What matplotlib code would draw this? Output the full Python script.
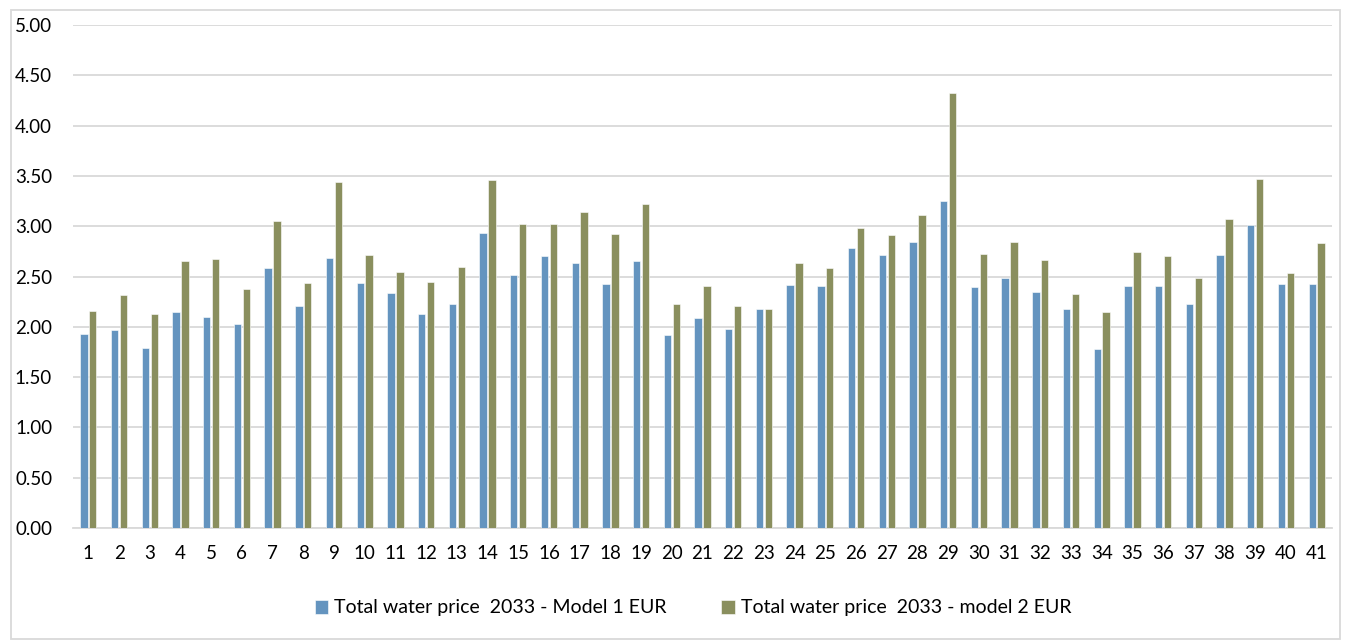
import numpy as np
import matplotlib
matplotlib.use('Agg')
import matplotlib.pyplot as plt
from matplotlib.patches import Rectangle

plt.rcParams['font.family'] = ['Lato', 'DejaVu Sans']

# Data
categories = [str(i) for i in range(1, 42)]
model1 = [1.93, 1.97, 1.79, 2.15, 2.10, 2.03, 2.58, 2.21, 2.68, 2.44,
          2.34, 2.13, 2.23, 2.93, 2.51, 2.70, 2.63, 2.43, 2.65, 1.92,
          2.09, 1.98, 2.18, 2.42, 2.41, 2.78, 2.71, 2.84, 3.25, 2.40,
          2.49, 2.35, 2.18, 1.78, 2.41, 2.41, 2.23, 2.71, 3.01, 2.43,
          2.43]
model2 = [2.16, 2.32, 2.13, 2.65, 2.67, 2.38, 3.05, 2.44, 3.44, 2.71,
          2.54, 2.45, 2.59, 3.46, 3.02, 3.02, 3.14, 2.92, 3.22, 2.23,
          2.41, 2.21, 2.18, 2.63, 2.58, 2.98, 2.91, 3.11, 4.32, 2.72,
          2.84, 2.66, 2.33, 2.15, 2.74, 2.70, 2.49, 3.07, 3.47, 2.53,
          2.83]
yticks = np.arange(0, 5.01, 0.5)
label1 = 'Total water price  2033 - Model 1 EUR'
label2 = 'Total water price  2033 - model 2 EUR'

W, H = 1349, 640
fig = plt.figure(figsize=(W / 100, H / 100), dpi=100)
ax = fig.add_axes([73 / W, (H - 528) / H, (1332 - 73) / W, (528 - 25) / H])

x = np.arange(len(categories))
bw = 0.24
ax.bar(x - 0.145, model1, bw, color='#6494BF', edgecolor='white', linewidth=0.4,
       label=label1, zorder=3)
ax.bar(x + 0.145, model2, bw, color='#8A8F5E', edgecolor='white', linewidth=0.4,
       label=label2, zorder=3)

ax.set_xlim(-0.5, len(categories) - 0.5)
ax.set_ylim(0, 5)
ax.set_yticks(yticks)
ax.set_yticklabels([f'{v:.2f}' for v in yticks])
ax.set_xticks(x)
ax.set_xticklabels(categories)
ax.grid(axis='y', color='#D9D9D9', linewidth=1.3, zorder=0)
for s in ['top', 'right', 'left']:
    ax.spines[s].set_visible(False)
ax.spines['bottom'].set_color('#D9D9D9')
ax.spines['bottom'].set_linewidth(1.3)
ax.tick_params(axis='both', length=0, labelsize=13.5, colors='#000000')
ax.tick_params(axis='x', pad=12)
ax.tick_params(axis='y', pad=15)

ax.legend(loc='center', bbox_to_anchor=(693 / W, (H - 608) / H),
          bbox_transform=fig.transFigure, ncol=2,
          frameon=False, fontsize=14, handlelength=0.7, handleheight=0.7,
          columnspacing=2.8, handletextpad=0.3)

# outer chart border
fig.patches.append(Rectangle((11 / W, 1 / H), (1340 - 11) / W, (630 - 1) / H,
                             transform=fig.transFigure, fill=False,
                             edgecolor='#D9D9D9', linewidth=1.3))

plt.savefig('out.png', dpi=100)
